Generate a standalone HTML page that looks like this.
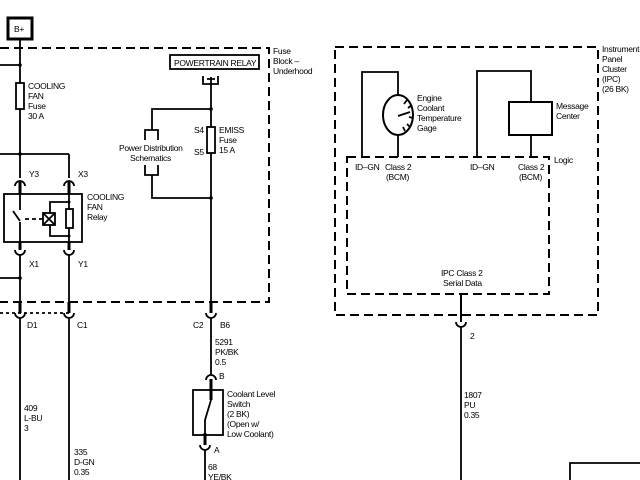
<!DOCTYPE html>
<html><head><style>
html,body{margin:0;padding:0;background:#fff;}
svg{display:block;}
text{font-family:"Liberation Sans",sans-serif;font-size:8.5px;fill:#000;letter-spacing:-0.3px;}
</style></head><body>
<svg width="640" height="480" viewBox="0 0 640 480" xmlns="http://www.w3.org/2000/svg">
<g fill="none" stroke="#000" stroke-width="1.8">
<rect x="8" y="18" width="24" height="21" stroke-width="3"/>
<path d="M0 48 H269 V302 H0" stroke-dasharray="9,5" stroke-width="2"/>
<line x1="20" y1="39" x2="20" y2="178"/>
<line x1="0" y1="65" x2="20" y2="65"/>
<rect x="16" y="83" width="8" height="26" fill="#fff"/>
<line x1="0" y1="154" x2="69" y2="154"/>
<line x1="69" y1="154" x2="69" y2="178"/>
<path d="M15 186 A5 5 0 0 1 25 186"/>
<path d="M64 186 A5 5 0 0 1 74 186"/>
<line x1="20" y1="182" x2="20" y2="194" stroke-width="3"/>
<line x1="69" y1="182" x2="69" y2="194" stroke-width="3"/>
<rect x="4" y="194" width="78" height="48"/>
<line x1="20" y1="194" x2="20" y2="210"/>
<line x1="13" y1="211" x2="20" y2="221"/>
<line x1="20" y1="222" x2="20" y2="242"/>
<line x1="25" y1="219" x2="43" y2="219" stroke-dasharray="4,3"/>
<rect x="43" y="213" width="12" height="12"/>
<path d="M43 213 L55 225 M55 213 L43 225"/>
<path d="M69 194 V242 M69 202 H50 V213 M50 225 V236 H69"/>
<rect x="66" y="209" width="7" height="19" fill="#fff"/>
<line x1="20" y1="242" x2="20" y2="250" stroke-width="3"/>
<line x1="69" y1="242" x2="69" y2="250" stroke-width="3"/>
<path d="M15 250 A5 5 0 0 0 25 250"/>
<path d="M64 250 A5 5 0 0 0 74 250"/>
<line x1="20" y1="255" x2="20" y2="306"/>
<line x1="69" y1="255" x2="69" y2="306"/>
<line x1="0" y1="278" x2="20" y2="278"/>
<line x1="20" y1="302" x2="20" y2="313" stroke-width="3"/>
<line x1="69" y1="302" x2="69" y2="313" stroke-width="3"/>
<path d="M15 313 A5 5 0 0 0 25 313"/>
<path d="M64 313 A5 5 0 0 0 74 313"/>
<line x1="0" y1="313" x2="69" y2="313" stroke-dasharray="3,3"/>
<line x1="20" y1="318" x2="20" y2="480"/>
<line x1="69" y1="318" x2="69" y2="480"/>
<rect x="170" y="55" width="89" height="14"/>
<path d="M203 76 V84 H218 V76 M207 79 H215"/>
<line x1="211" y1="77" x2="211" y2="313"/>
<path d="M211 109 H152 V130 M145 140 V130 H158 V140 M145 165 V175 H158 V165 M152 175 V198 H211"/>
<rect x="207" y="127" width="8" height="26" fill="#fff"/>
<line x1="211" y1="302" x2="211" y2="313" stroke-width="3"/>
<path d="M206 313 A5 5 0 0 0 216 313"/>
<line x1="211" y1="318" x2="211" y2="375"/>
<path d="M206 380 A5 5 0 0 1 216 380"/>
<line x1="211" y1="379" x2="211" y2="400" stroke-width="3"/>
<rect x="193" y="390" width="30" height="45"/>
<path d="M211 400 L205 420 V445"/>
<line x1="205" y1="433" x2="205" y2="445" stroke-width="3"/>
<path d="M200 445 A5 5 0 0 0 210 445"/>
<line x1="205" y1="450" x2="205" y2="480"/>
<rect x="335" y="47" width="263" height="268" stroke-dasharray="9,5" stroke-width="2"/>
<path d="M347 157 H549 V294 H347 Z" stroke-dasharray="9,5" stroke-width="2"/>
<path d="M362 157 V72 H398 V95"/>
<ellipse cx="398" cy="115" rx="15" ry="20" stroke-width="2"/>
<path d="M398 135 V157"/>
<path d="M398 116 L410 112 M404 104 L407 100 M408 108 L412 105 M409 117 L413 118 M407 124 L410 127 M403 127 L405 131"/>
<path d="M477 157 V71 H531 V102 M531 135 V157"/>
<rect x="509" y="102" width="43" height="33" stroke-width="2"/>
<line x1="461" y1="294" x2="461" y2="322" stroke-width="2"/>
<path d="M456 322 A5 5 0 0 0 466 322"/>
<line x1="461" y1="327" x2="461" y2="480"/>
<path d="M570 480 V463 H640"/>
</g>
<g fill="#000">
<circle cx="20" cy="65" r="1.8"/><circle cx="20" cy="154" r="1.8"/>
<circle cx="20" cy="278" r="1.8"/><circle cx="211" cy="109" r="1.8"/><circle cx="211" cy="198" r="1.8"/>
<circle cx="69" cy="202" r="1.5"/><circle cx="69" cy="236" r="1.5"/>
</g>
<text x="14" y="32">B+</text>
<text x="174" y="66">POWERTRAIN RELAY</text>
<text x="273" y="54">Fuse</text><text x="273" y="64">Block –</text><text x="273" y="74">Underhood</text>
<text x="28" y="89">COOLING</text><text x="28" y="99">FAN</text><text x="28" y="109">Fuse</text><text x="28" y="119">30 A</text>
<text x="119" y="151">Power Distribution</text><text x="130" y="161">Schematics</text>
<text x="194" y="133">S4</text><text x="194" y="155">S5</text>
<text x="219" y="133">EMISS</text><text x="219" y="143">Fuse</text><text x="219" y="153">15 A</text>
<text x="29" y="177">Y3</text><text x="78" y="177">X3</text>
<text x="87" y="200">COOLING</text><text x="87" y="210">FAN</text><text x="87" y="220">Relay</text>
<text x="29" y="267">X1</text><text x="78" y="267">Y1</text>
<text x="27" y="328">D1</text><text x="77" y="328">C1</text>
<text x="193" y="328">C2</text><text x="220" y="328">B6</text>
<text x="215" y="345">5291</text><text x="215" y="355">PK/BK</text><text x="215" y="365">0.5</text>
<text x="219" y="379">B</text>
<text x="227" y="397">Coolant Level</text><text x="227" y="407">Switch</text><text x="227" y="417">(2 BK)</text><text x="227" y="427">(Open w/</text><text x="227" y="437">Low Coolant)</text>
<text x="214" y="453">A</text>
<text x="208" y="470">68</text><text x="208" y="480">YE/BK</text>
<text x="24" y="411">409</text><text x="24" y="421">L-BU</text><text x="24" y="431">3</text>
<text x="74" y="455">335</text><text x="74" y="465">D-GN</text><text x="74" y="475">0.35</text>
<text x="602" y="52">Instrument</text><text x="602" y="62">Panel</text><text x="602" y="72">Cluster</text><text x="602" y="82">(IPC)</text><text x="602" y="92">(26 BK)</text>
<text x="417" y="101">Engine</text><text x="417" y="111">Coolant</text><text x="417" y="121">Temperature</text><text x="417" y="131">Gage</text>
<text x="556" y="109">Message</text><text x="556" y="119">Center</text>
<text x="554" y="163">Logic</text>
<text x="355" y="170">ID–GN</text><text x="385" y="170">Class 2</text><text x="386" y="180">(BCM)</text>
<text x="470" y="170">ID–GN</text><text x="518" y="170">Class 2</text><text x="519" y="180">(BCM)</text>
<text x="441" y="276">IPC Class 2</text><text x="443" y="286">Serial Data</text>
<text x="470" y="339">2</text>
<text x="464" y="398">1807</text><text x="464" y="408">PU</text><text x="464" y="418">0.35</text>
</svg>
</body></html>
